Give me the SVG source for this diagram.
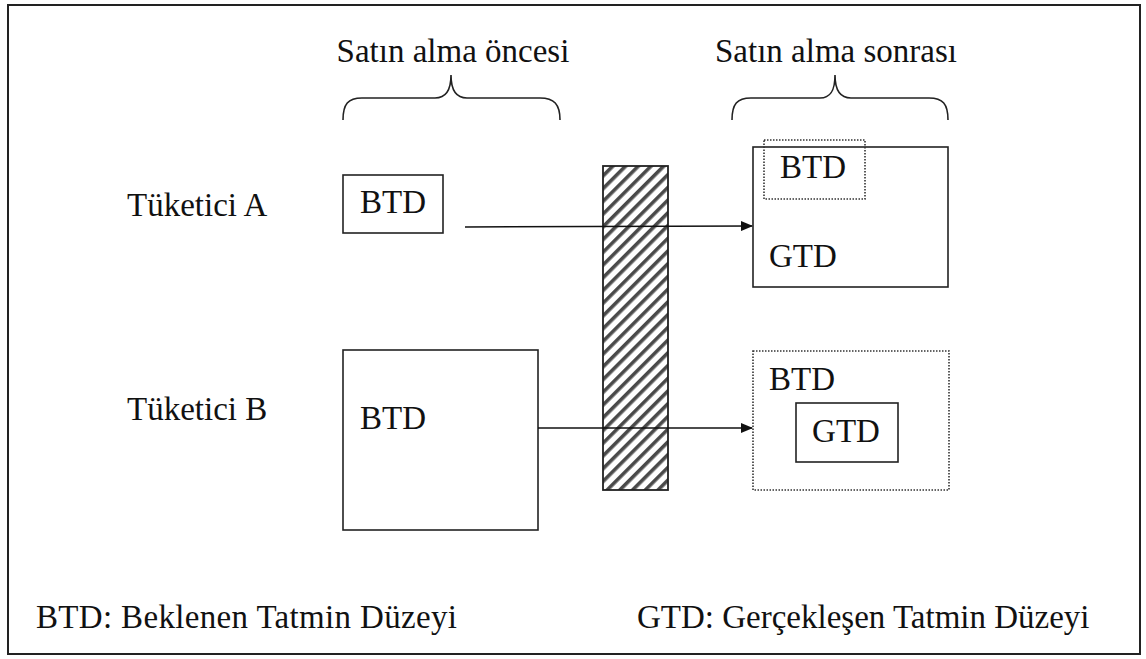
<svg xmlns="http://www.w3.org/2000/svg" width="1146" height="659" viewBox="0 0 1146 659">
<defs>
<style>
.lab{font-size:33px;fill:#111;}
.box{fill:#fff;stroke:#222;stroke-width:1.6;}
.dot{fill:none;stroke:#333;stroke-width:1.6;stroke-dasharray:1.5 1.5;}
.brace{fill:none;stroke:#222;stroke-width:1.6;}
.conn{stroke:#111;stroke-width:1.5;fill:none;}
</style>
<pattern id="hatch" width="9" height="9" patternUnits="userSpaceOnUse" patternTransform="rotate(45)">
<rect width="9" height="9" fill="#fff"/>
<rect x="0" y="0" width="3.6" height="9" fill="#4a4a4a"/>
</pattern>
<marker id="arr" markerWidth="12" markerHeight="10" refX="11" refY="5" orient="auto" markerUnits="userSpaceOnUse">
<path d="M0,0 L12,5 L0,10 Z" fill="#111"/>
</marker>
</defs>
<rect x="0" y="0" width="1146" height="659" fill="#fff"/>
<rect x="8" y="5" width="1132" height="649" fill="none" stroke="#222" stroke-width="2"/>
<g font-family="Liberation Serif, DejaVu Serif, serif">
<g id="header-before">
<text class="lab" x="453" y="62" text-anchor="middle">Satın alma öncesi</text>
<path class="brace" d="M343,120 C343,104 348,98 362,98 L435,98 C446,98 451,90 451,75 C451,90 456,98 467,98 L540,98 C554,98 560,104 560,120"/>
</g>
<g id="header-after">
<text class="lab" x="836" y="62" text-anchor="middle">Satın alma sonrası</text>
<path class="brace" d="M732,120 C732,104 737,98 751,98 L820,98 C831,98 835,90 835,75 C835,90 840,98 851,98 L929,98 C943,98 948,104 948,120"/>
</g>

<g id="label-a"><text class="lab" x="127" y="216">Tüketici A</text></g>
<g id="label-b"><text class="lab" x="127" y="420">Tüketici B</text></g>

<g id="barrier"><rect x="603" y="166" width="65" height="324" fill="url(#hatch)" stroke="#222" stroke-width="1.8"/></g>

<g id="a-before">
<rect class="box" x="343" y="175" width="100" height="58"/>
<text class="lab" x="393" y="213" text-anchor="middle">BTD</text>
</g>
<g id="a-after">
<rect class="box" x="753" y="147" width="195" height="140"/>
<rect class="dot" x="764" y="140" width="101" height="59"/>
<text class="lab" x="813" y="178" text-anchor="middle">BTD</text>
<text class="lab" x="769" y="267">GTD</text>
</g>

<g id="b-before">
<rect class="box" x="343" y="350" width="195" height="180"/>
<text class="lab" x="360" y="429">BTD</text>
</g>
<g id="b-after">
<rect class="dot" x="753" y="351" width="196" height="139"/>
<text class="lab" x="769" y="390">BTD</text>
<rect class="box" x="796" y="403" width="102" height="59"/>
<text class="lab" x="846" y="442" text-anchor="middle">GTD</text>
</g>

<g id="connectors">
<line class="conn" x1="465" y1="227" x2="752" y2="226" marker-end="url(#arr)"/>
<line class="conn" x1="538" y1="428" x2="752" y2="428" marker-end="url(#arr)"/>
</g>

<g id="legend">
<text class="lab" x="36" y="628" textLength="421" lengthAdjust="spacing">BTD: Beklenen Tatmin Düzeyi</text>
<text class="lab" x="637" y="628">GTD: Gerçekleşen Tatmin Düzeyi</text>
</g>
</g>
</svg>
